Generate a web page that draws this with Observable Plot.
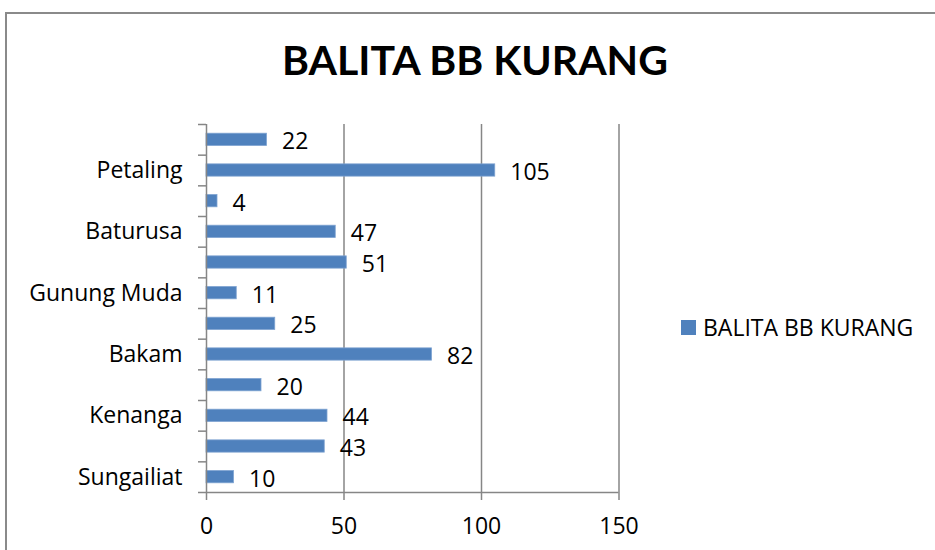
<!DOCTYPE html>
<html>
<head>
<meta charset="utf-8">
<script src="https://cdn.jsdelivr.net/npm/d3@7"></script>
<script src="https://cdn.jsdelivr.net/npm/@observablehq/plot@0.6"></script>
<style>
  html, body { margin: 0; padding: 0; background: #fff; }
  #wrap { position: relative; width: 935px; height: 550px; overflow: hidden; font-family: "Open Sans", Lato, sans-serif; }
  #border { position: absolute; left: 5px; top: 12px; width: 960px; height: 600px; border-left: 2px solid #8a8a8a; border-top: 2px solid #8a8a8a; box-sizing: border-box; }
  #title { position: absolute; left: 0; top: 35px; width: 950px; text-align: center; font-family: Lato, sans-serif; font-weight: bold; font-size: 41px; line-height: 50px; color: #000; }
  #chart { position: absolute; left: 0; top: 0; }
  #legend { position: absolute; left: 681px; top: 311px; display: flex; align-items: center; font-size: 23px; color: #000; white-space: nowrap; }
  #legend .sw { width: 15px; height: 15px; background: #4F81BD; margin-right: 7px; }
</style>
</head>
<body>
<div id="wrap">
  <div id="border"></div>
  <div id="title">BALITA BB KURANG</div>
  <div id="chart"></div>
  <div id="legend"><span class="sw"></span><span>BALITA BB KURANG</span></div>
</div>
<script>
const categories = ["Sungailiat", "", "Kenanga", "", "Bakam", "", "Gunung Muda", "", "Baturusa", "", "Petaling", ""];
const values = [10, 43, 44, 20, 82, 25, 11, 51, 47, 4, 105, 22];
const xTicks = [0, 50, 100, 150];
const seriesName = "BALITA BB KURANG";

const data = values.map((v, i) => ({i, value: v, name: categories[i]}));
const grey = "#868686";
const font = "'Open Sans', Lato, sans-serif";
const fs = 23;

const chart = Plot.plot({
  width: 935,
  height: 550,
  marginLeft: 206,
  marginRight: 316.5,
  marginTop: 124,
  marginBottom: 58,
  style: {fontFamily: font, fontSize: fs + "px", color: "#000", background: "transparent"},
  x: {domain: [0, 150], label: null},
  y: {domain: [-0.5, categories.length - 0.5], label: null},
  marks: [
    Plot.ruleX(xTicks.filter(d => d > 0), {stroke: grey, strokeWidth: 1.5, strokeOpacity: 1}),
    Plot.rectX(data, {x: "value", y1: d => d.i - 0.2, y2: d => d.i + 0.2, fill: "#4F81BD", stroke: "#7ea3d1", strokeWidth: 0.8}),
    Plot.ruleX([0], {stroke: grey, strokeWidth: 1.5, strokeOpacity: 1}),
    Plot.ruleY([-0.5], {stroke: grey, strokeWidth: 1.5, strokeOpacity: 1}),
    Plot.text(data, {x: "value", y: "i", text: d => String(d.value), textAnchor: "start", dx: 15, dy: 2, fontSize: fs, fill: "#000"}),
    Plot.axisX({ticks: xTicks, tickSize: 8, tickPadding: 17, label: null, stroke: grey, strokeWidth: 1.5, strokeOpacity: 1, tickFormat: d => String(d), fontSize: fs, fill: "#000"}),
    Plot.axisY({ticks: d3.range(categories.length), tickSize: 0, tickPadding: 24, label: null, tickFormat: i => categories[i], fontSize: fs, fill: "#000"}),
    Plot.axisY({ticks: d3.range(-0.5, categories.length, 1), tickSize: 8, label: null, tickFormat: () => "", stroke: grey, strokeWidth: 1.5, strokeOpacity: 1})
  ]
});
document.getElementById("chart").appendChild(chart);
</script>
</body>
</html>
